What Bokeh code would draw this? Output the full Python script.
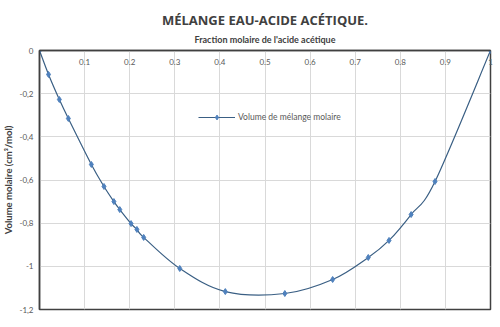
from bokeh.plotting import figure
from bokeh.models import (Range1d, FixedTicker, CustomJSTickFormatter, Legend,
                          LegendItem, ColumnDataSource)
from bokeh.embed import file_html
from bokeh.resources import INLINE

# ---- data ----
x_frac = [0.0, 0.020, 0.044, 0.064, 0.115, 0.143, 0.165, 0.178, 0.203, 0.216,
          0.231, 0.311, 0.412, 0.544, 0.650, 0.729, 0.775, 0.824, 0.877, 1.0]
v_mix = [0.0, -0.111, -0.227, -0.315, -0.528, -0.630, -0.700, -0.737, -0.802, -0.829,
         -0.866, -1.010, -1.117, -1.126, -1.061, -0.959, -0.880, -0.760, -0.607, 0.0]
x_ticks = [0.1, 0.2, 0.3, 0.4, 0.5, 0.6, 0.7, 0.8, 0.9, 1.0]
y_ticks = [0.0, -0.2, -0.4, -0.6, -0.8, -1.0, -1.2]
title_text = "MÉLANGE EAU-ACIDE ACÉTIQUE."
x_title = "Fraction molaire de l'acide acétique"
y_title = "Volume molaire (cm³/mol)"
series_name = "Volume de mélange molaire"

LINE = "#3a5f84"
MARK = "#4f81bd"
FONT = "Lato"

p = figure(width=500, height=327, output_backend="svg", toolbar_location=None,
           x_range=Range1d(0, 1), y_range=Range1d(-1.2, 0),
           x_axis_location="above",
           min_border_left=36, min_border_right=10, min_border_top=50,
           min_border_bottom=18)
p.background_fill_color = "white"
p.border_fill_color = "white"
p.outline_line_color = "#404040"
p.outline_line_width = 1.5

p.title.text = title_text
p.title.align = "center"
p.title.text_font = "Open Sans"
p.title.text_font_size = "13px"
p.title.text_font_style = "bold"
p.title.text_color = "#404040"
p.title.standoff = 4

# x axis (top)
xa = p.xaxis[0]
xa.ticker = FixedTicker(ticks=x_ticks)
xa.formatter = CustomJSTickFormatter(code="return (Math.round(tick*10)/10).toString();")
xa.major_label_standoff = -14
xa.major_tick_out = 0
xa.major_tick_in = 0
xa.minor_tick_out = 0
xa.minor_tick_in = 0
xa.axis_line_color = "#404040"
xa.axis_line_width = 1.5
xa.major_label_text_font = FONT
xa.major_label_text_font_size = "8px"
xa.major_label_text_color = "#595959"
xa.axis_label = x_title
xa.axis_label_text_font = FONT
xa.axis_label_text_font_size = "9px"
xa.axis_label_text_font_style = "bold"
xa.axis_label_text_color = "#404040"
xa.axis_label_standoff = 11

# y axis (left)
ya = p.yaxis[0]
ya.ticker = FixedTicker(ticks=y_ticks)
ya.formatter = CustomJSTickFormatter(
    code="return (Math.round(tick*10)/10).toString().replace('.', ',');")
ya.major_tick_out = 0
ya.major_tick_in = 0
ya.minor_tick_out = 0
ya.minor_tick_in = 0
ya.major_label_standoff = 6
ya.axis_line_color = "#404040"
ya.axis_line_width = 1.5
ya.major_label_text_font = FONT
ya.major_label_text_font_size = "8px"
ya.major_label_text_color = "#595959"
ya.axis_label = y_title
ya.axis_label_text_font = FONT
ya.axis_label_text_font_size = "9.5px"
ya.axis_label_text_font_style = "bold"
ya.axis_label_text_color = "#404040"
ya.axis_label_standoff = 2

p.xgrid.grid_line_color = "#d9d9d9"
p.ygrid.grid_line_color = "#d9d9d9"
p.xgrid.grid_line_width = 1
p.ygrid.grid_line_width = 1

# smooth curve (Catmull-Rom style Bezier segments through the data points)
n = len(x_frac)
x0, y0, x1, y1, cx0, cy0, cx1, cy1 = [], [], [], [], [], [], [], []
for i in range(n - 1):
    a = max(i - 1, 0)
    d = min(i + 2, n - 1)
    x0.append(x_frac[i]); y0.append(v_mix[i])
    x1.append(x_frac[i + 1]); y1.append(v_mix[i + 1])
    cx0.append(x_frac[i] + (x_frac[i + 1] - x_frac[a]) / 6)
    cy0.append(v_mix[i] + (v_mix[i + 1] - v_mix[a]) / 6)
    cx1.append(x_frac[i + 1] - (x_frac[d] - x_frac[i]) / 6)
    cy1.append(v_mix[i + 1] - (v_mix[d] - v_mix[i]) / 6)
bsrc = ColumnDataSource(dict(x0=x0, y0=y0, x1=x1, y1=y1, cx0=cx0, cy0=cy0,
                             cx1=cx1, cy1=cy1))
bez = p.bezier(x0="x0", y0="y0", x1="x1", y1="y1", cx0="cx0", cy0="cy0",
               cx1="cx1", cy1="cy1", source=bsrc, line_color=LINE, line_width=1.2)

src = ColumnDataSource(dict(x=x_frac, y=v_mix))
pts = p.scatter("x", "y", source=src, marker="diamond", size=6,
                fill_color=MARK, line_color=MARK)

legend = Legend(items=[LegendItem(label=series_name, renderers=[bez, pts])],
                location=(159, 186), orientation="vertical",
                background_fill_alpha=0, border_line_alpha=0,
                padding=0, margin=0, spacing=0,
                glyph_width=37, glyph_height=12, label_standoff=3,
                label_text_font=FONT, label_text_font_size="8.5px",
                label_text_color="#595959")
p.add_layout(legend, "center")

open("out.html", "w").write(file_html(p, INLINE))
